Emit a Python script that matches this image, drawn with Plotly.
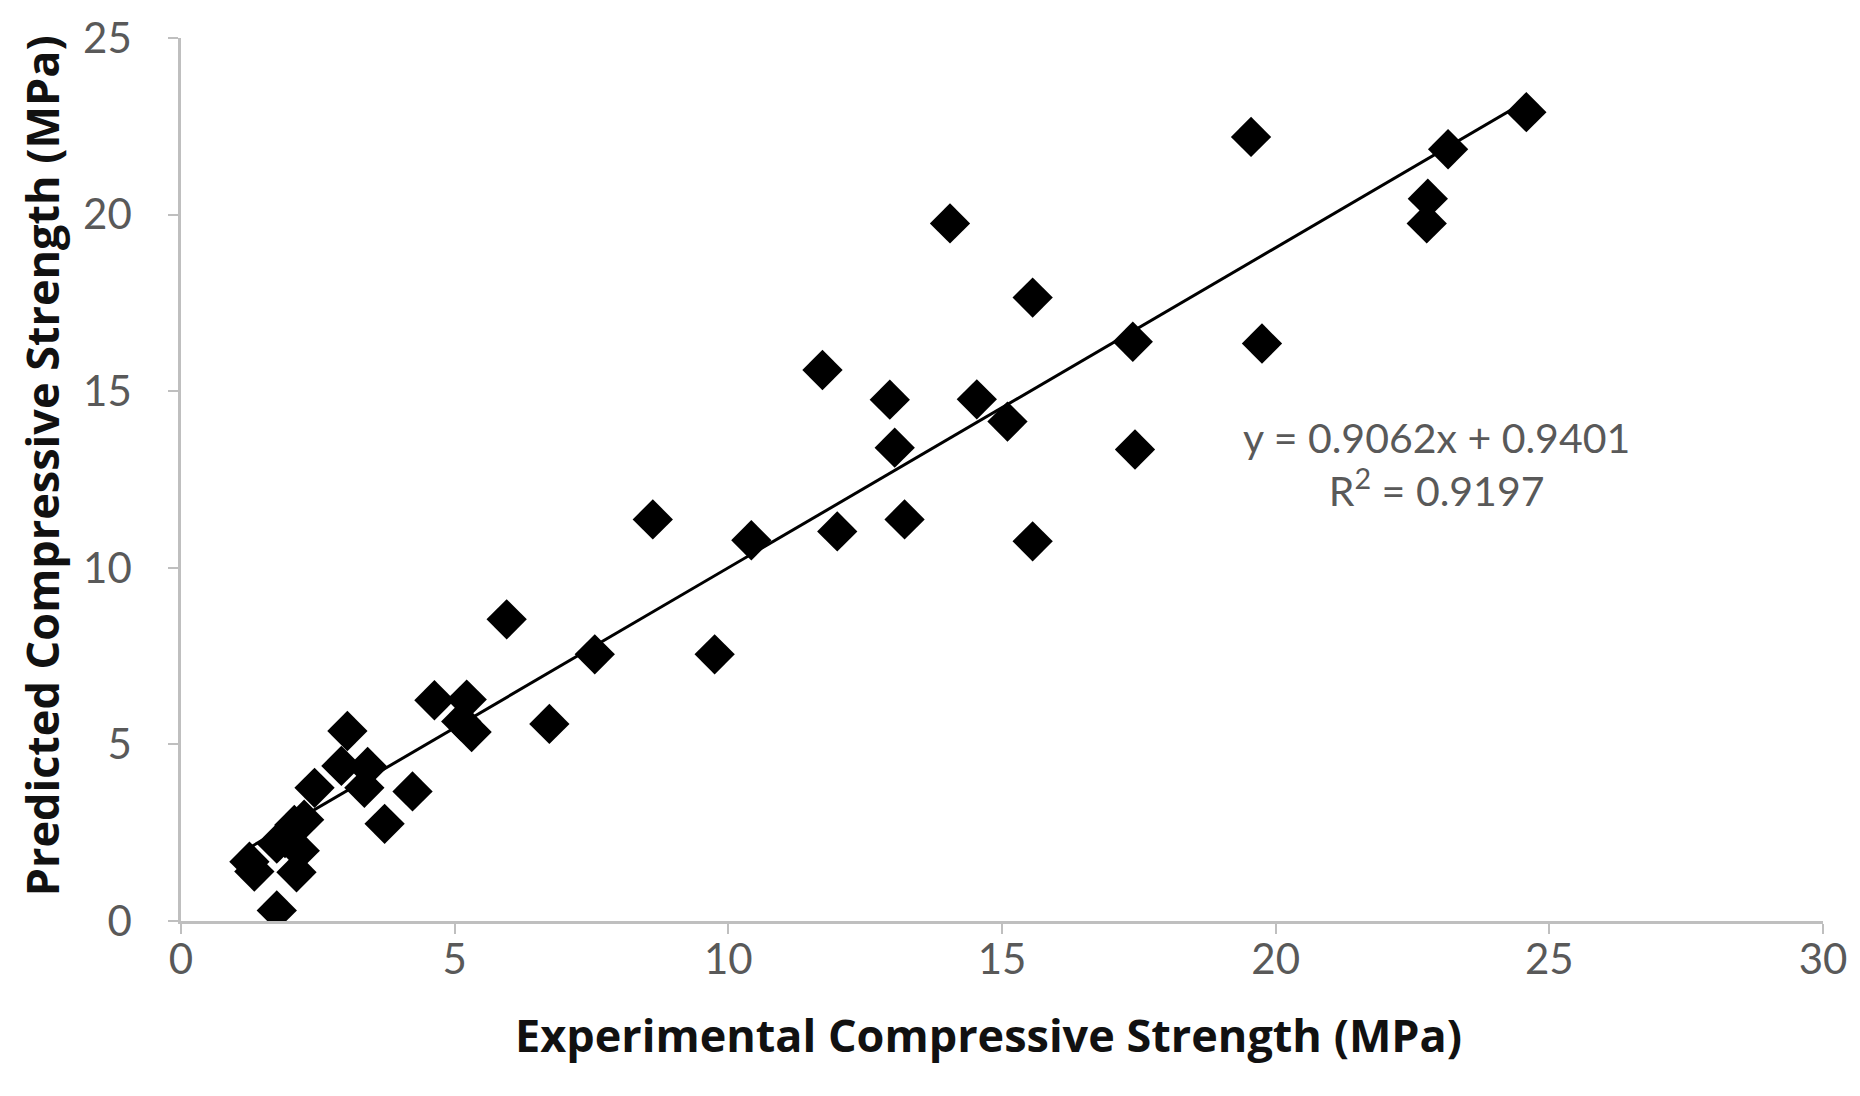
import plotly.graph_objects as go

# Experimental vs predicted compressive strength (MPa)
experimental = [24.58, 23.15, 22.78, 22.76, 19.55, 19.75, 17.39, 17.43, 15.56, 15.56,
                14.05, 15.10, 14.54, 12.95, 13.04, 13.22, 11.99, 11.72, 10.42, 8.62,
                9.75, 7.56, 5.95, 6.73, 4.63, 5.22, 5.12, 5.31, 4.23, 3.72,
                3.41, 3.35, 3.04, 2.93, 2.44, 2.25, 2.07, 1.90, 1.75, 2.17,
                1.25, 1.34, 2.11, 1.75]
predicted = [22.90, 21.85, 20.45, 19.75, 22.20, 16.35, 16.40, 13.35, 17.65, 10.75,
             19.75, 14.14, 14.77, 14.76, 13.40, 11.37, 11.03, 15.60, 10.78, 11.37,
             7.55, 7.55, 8.54, 5.58, 6.25, 6.27, 5.65, 5.35, 3.67, 2.75,
             4.36, 3.77, 5.38, 4.39, 3.77, 2.87, 2.72, 2.35, 2.19, 1.99,
             1.68, 1.40, 1.38, 0.30]

slope = 0.9062
intercept = 0.9401
r_squared = 0.9197

x_ticks = [0, 5, 10, 15, 20, 25, 30]
y_ticks = [0, 5, 10, 15, 20, 25]

x_title = "Experimental Compressive Strength (MPa)"
y_title = "Predicted Compressive Strength (MPa)"

trend_x = [min(experimental), max(experimental)]
trend_y = [slope * v + intercept for v in trend_x]

fig = go.Figure()
fig.add_trace(go.Scatter(
    x=trend_x, y=trend_y, mode="lines",
    line=dict(color="black", width=3), showlegend=False, hoverinfo="skip"))
fig.add_trace(go.Scatter(
    x=experimental, y=predicted, mode="markers",
    marker=dict(symbol="diamond", size=31, color="black", line=dict(width=0)),
    showlegend=False))

fig.add_annotation(
    x=22.93, y=12.95, xref="x", yref="y",
    text=f"y = {slope:.4f}x + {intercept:.4f}<br>R<sup>2</sup> = {r_squared:.4f}",
    showarrow=False, align="center",
    font=dict(family="Lato", size=41, color="#595959"))

title_font = dict(family="Open Sans", size=45, color="#111111")

fig.add_annotation(
    x=0.492, y=-0.129, xref="paper", yref="paper",
    xanchor="center", yanchor="middle", showarrow=False,
    text=f"<b>{x_title}</b>", font=title_font)
fig.add_annotation(
    x=-0.0853, y=0.516, xref="paper", yref="paper",
    xanchor="center", yanchor="middle", showarrow=False, textangle=-90,
    text=f"<b>{y_title}</b>", font=title_font)

axis_common = dict(
    showline=True, linecolor="#bfbfbf", linewidth=2.5,
    ticks="outside", ticklen=10, tickwidth=2, tickcolor="#bfbfbf",
    showgrid=False, zeroline=False,
    tickfont=dict(family="Lato", size=42, color="#595959"),
)

fig.update_layout(
    width=1860, height=1096,
    margin=dict(l=181, r=37, t=36, b=175),
    plot_bgcolor="white", paper_bgcolor="white",
    xaxis=dict(range=[0, 30], tickvals=x_ticks, ticklabelstandoff=-10, **axis_common),
    yaxis=dict(range=[0, 25], tickvals=y_ticks, ticklabelstandoff=28, **axis_common),
)

fig.write_html("out.html")
